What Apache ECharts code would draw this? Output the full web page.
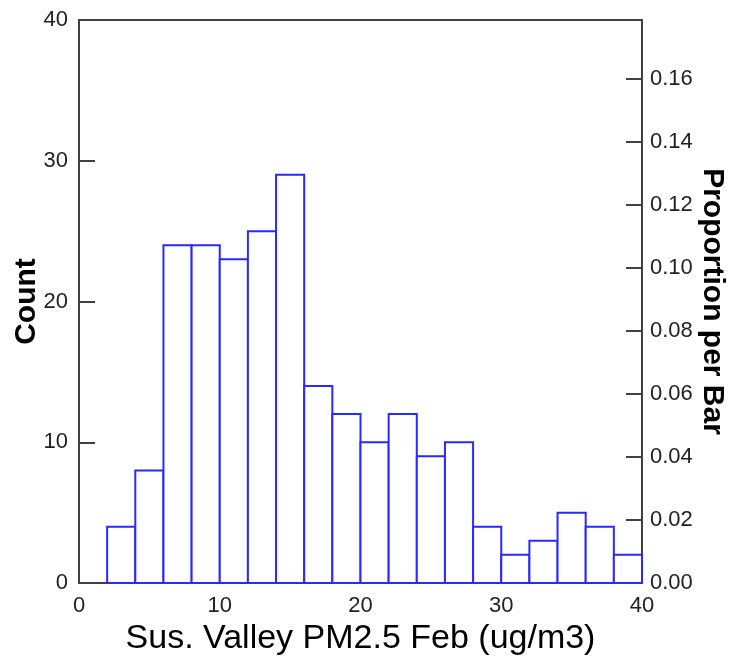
<!DOCTYPE html>
<html>
<head>
<meta charset="utf-8">
<script src="https://cdn.jsdelivr.net/npm/echarts@6/dist/echarts.min.js"></script>
<style>
html,body{margin:0;padding:0;background:#fff;}
#chart{width:732px;height:662px;}
</style>
</head>
<body>
<div id="chart"></div>
<script>
// Histogram bin edges (ug/m3)
var binStarts = [2, 4, 6, 8, 10, 12, 14, 16, 18, 20, 22, 24, 26, 28, 30, 32, 34, 36, 38];
var binEnds   = [4, 6, 8, 10, 12, 14, 16, 18, 20, 22, 24, 26, 28, 30, 32, 34, 36, 38, 40];
// Counts per bin
var counts    = [4, 8, 24, 24, 23, 25, 29, 14, 12, 10, 12, 9, 10, 4, 2, 3, 5, 4, 2];

var xTitle = 'Sus. Valley PM2.5 Feb (ug/m3)';
var yTitle = 'Count';
var y2Title = 'Proportion per Bar';

var total = counts.reduce(function(a, b){ return a + b; }, 0);
var countMax = 40;

var FONT = '"Liberation Sans", Arial, sans-serif';
var AXIS_COLOR = '#404040';
var BAR_COLOR = '#2a2aff';

var chart = echarts.init(document.getElementById('chart'), null, {renderer: 'canvas'});

var data = binStarts.map(function(s, i){ return [s, binEnds[i], counts[i]]; });

chart.setOption({
  backgroundColor: '#ffffff',
  animation: false,
  grid: {
    left: 79, right: 90, top: 20, bottom: 79,
    containLabel: false, outerBoundsMode: 'none',
    show: true, borderColor: AXIS_COLOR, borderWidth: 2, backgroundColor: 'transparent'
  },
  xAxis: {
    type: 'value', min: 0, max: 40, interval: 10,
    name: xTitle, nameLocation: 'middle', nameGap: 39, nameMoveOverlap: false,
    nameTextStyle: {fontFamily: FONT, fontSize: 34, color: '#000'},
    axisLine: {show: true, lineStyle: {color: AXIS_COLOR, width: 2}},
    axisTick: {show: false},
    splitLine: {show: false},
    axisLabel: {fontFamily: FONT, fontSize: 22, color: '#222', margin: 12}
  },
  yAxis: [{
    type: 'value', min: 0, max: countMax, interval: 10, position: 'left',
    name: yTitle, nameLocation: 'middle', nameGap: 37, nameMoveOverlap: false,
    nameTextStyle: {fontFamily: FONT, fontSize: 30, fontWeight: 'bold', color: '#000'},
    axisLine: {show: true, lineStyle: {color: AXIS_COLOR, width: 2}},
    axisTick: {show: true, inside: true, length: 16, lineStyle: {color: AXIS_COLOR, width: 2}},
    splitLine: {show: false},
    axisLabel: {fontFamily: FONT, fontSize: 22, color: '#222', margin: 11}
  }, {
    type: 'value', min: 0, max: countMax / total, interval: 0.02, position: 'right',
    name: y2Title, nameLocation: 'middle', nameGap: 55, nameRotate: -90, nameMoveOverlap: false,
    nameTextStyle: {fontFamily: FONT, fontSize: 30, fontWeight: 'bold', color: '#000'},
    axisLine: {show: true, lineStyle: {color: AXIS_COLOR, width: 2}},
    axisTick: {show: true, inside: true, length: 16, lineStyle: {color: AXIS_COLOR, width: 2}},
    splitLine: {show: false},
    axisLabel: {
      fontFamily: FONT, fontSize: 22, color: '#222', margin: 8,
      formatter: function(v){ return v > 0.17 ? '' : v.toFixed(2); }
    }
  }],
  series: [{
    type: 'custom',
    xAxisIndex: 0, yAxisIndex: 0,
    data: data,
    encode: {x: [0, 1], y: 2},
    renderItem: function(params, api){
      var x0 = api.value(0), x1 = api.value(1), c = api.value(2);
      var pTop = api.coord([x0, c]);
      var pBot = api.coord([x1, 0]);
      return {
        type: 'rect',
        shape: {x: pTop[0], y: pTop[1], width: pBot[0] - pTop[0], height: pBot[1] - pTop[1]},
        style: {fill: '#ffffff', stroke: BAR_COLOR, lineWidth: 2}
      };
    }
  }]
});
</script>
</body>
</html>
